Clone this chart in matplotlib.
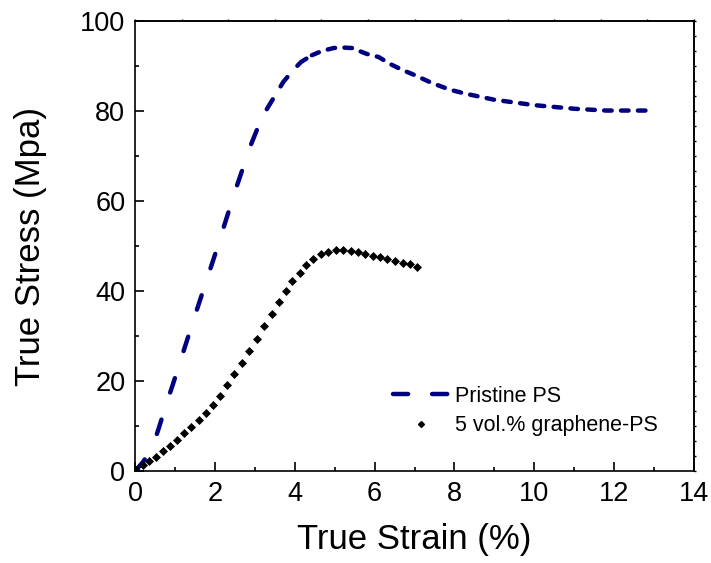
import matplotlib
matplotlib.use("Agg")
import matplotlib.pyplot as plt
from matplotlib.lines import Line2D
from matplotlib.ticker import MultipleLocator

plt.rcParams['font.family'] = ['Liberation Sans', 'DejaVu Sans']

# Pristine PS: true strain (%) vs true stress (MPa)
pristine_strain = [0.0, 0.2, 0.43, 0.58, 0.8, 0.95, 1.5, 2.0, 2.5, 2.88, 3.08, 3.3,
                   3.56, 3.71, 3.96, 4.16, 4.43, 4.7, 4.98, 5.2, 5.43, 5.8, 6.1,
                   6.4, 6.7, 7.0, 7.44, 7.9, 8.3, 9.0, 10.0, 11.0, 11.8, 12.85]
pristine_stress = [0.0, 2.0, 5.1, 9.1, 15.3, 19.3, 34.5, 48.0, 62.0, 72.0, 76.4, 80.4,
                   84.2, 86.4, 89.1, 90.9, 92.4, 93.4, 94.0, 94.1, 94.0, 92.7, 92.0,
                   90.4, 89.1, 88.0, 86.2, 84.7, 83.8, 82.5, 81.3, 80.5, 80.1, 80.1]

# 5 vol.% graphene-PS
graphene_strain = [0.02, 0.19, 0.36, 0.52, 0.70, 0.88, 1.05, 1.23, 1.41, 1.59,
                   1.77, 1.96, 2.13, 2.31, 2.49, 2.68, 2.86, 3.05, 3.23, 3.42,
                   3.60, 3.77, 3.94, 4.12, 4.29, 4.47, 4.66, 4.84, 5.03, 5.22,
                   5.40, 5.59, 5.77, 5.95, 6.14, 6.32, 6.51, 6.70, 6.89, 7.07]
graphene_stress = [0.3, 1.3, 2.2, 3.2, 4.4, 5.6, 6.9, 8.4, 9.7, 11.3,
                   12.8, 14.7, 16.7, 19.1, 21.5, 24.1, 26.7, 29.4, 32.2, 35.0,
                   37.6, 40.0, 42.2, 44.1, 45.8, 47.1, 48.2, 48.7, 49.1, 49.1,
                   48.9, 48.7, 48.3, 47.8, 47.6, 47.1, 46.7, 46.3, 46.0, 45.4]

navy = '#000080'

fig = plt.figure(figsize=(7.11, 5.63), dpi=100)
ax = fig.add_axes([0.1899, 0.1634, 0.7862, 0.7993])

# the dashes get tighter as the curve flattens, so draw it in three pieces
pieces = [(0, 11, (3.4, 6.4)), (11, 16, (2.6, 3.4)), (16, len(pristine_strain) - 1, (1.7, 2.1))]
for i0, i1, dash in pieces:
    ax.plot(pristine_strain[i0:i1 + 1], pristine_stress[i0:i1 + 1], color=navy, lw=3.2,
            dashes=dash, dash_capstyle='round', zorder=3)

ax.plot(graphene_strain, graphene_stress, linestyle='none', marker='D',
        ms=4.5, color='black', mec='black', mew=0.5, zorder=4)

ax.set_xlim(0, 14)
ax.set_ylim(0, 100)
ax.xaxis.set_major_locator(MultipleLocator(2))
ax.xaxis.set_minor_locator(MultipleLocator(1))
ax.yaxis.set_major_locator(MultipleLocator(20))
ax.yaxis.set_minor_locator(MultipleLocator(10))

for s in ax.spines.values():
    s.set_linewidth(1.2)
ax.tick_params(which='both', direction='in', top=False, right=False,
               width=1.2, labelsize=19.5, pad=7)
ax.tick_params(which='major', length=6.5)
ax.tick_params(which='minor', length=3)

# unlabeled top and right scales with their own fine ticks
top = ax.secondary_xaxis('top')
top.xaxis.set_major_locator(MultipleLocator(14 / 12))
top.tick_params(direction='out', length=1.5, width=1.0, labeltop=False)
top.spines['top'].set_linewidth(1.2)
right = ax.secondary_yaxis('right')
right.yaxis.set_major_locator(MultipleLocator(100 / 30))
right.tick_params(direction='out', length=1.5, width=1.0, labelright=False)
right.spines['right'].set_linewidth(1.2)

ax.set_xlabel('True Strain (%)', fontsize=25, labelpad=12)
ax.set_ylabel('True Stress (Mpa)', fontsize=25, labelpad=24)

handles = [
    Line2D([], [], color=navy, lw=3.2, dashes=(3.4, 5.4), dash_capstyle='round'),
    Line2D([], [], linestyle='none', marker='D', ms=3.0, color='black'),
]
ax.legend(handles, ['Pristine PS', '5 vol.% graphene-PS'], loc='upper left',
          bbox_to_anchor=(0.462, 0.19), frameon=False, fontsize=15.5,
          handlelength=2.55, handletextpad=0.3, labelspacing=0.4,
          borderpad=0, borderaxespad=0)

fig.savefig('out.png', dpi=100)
